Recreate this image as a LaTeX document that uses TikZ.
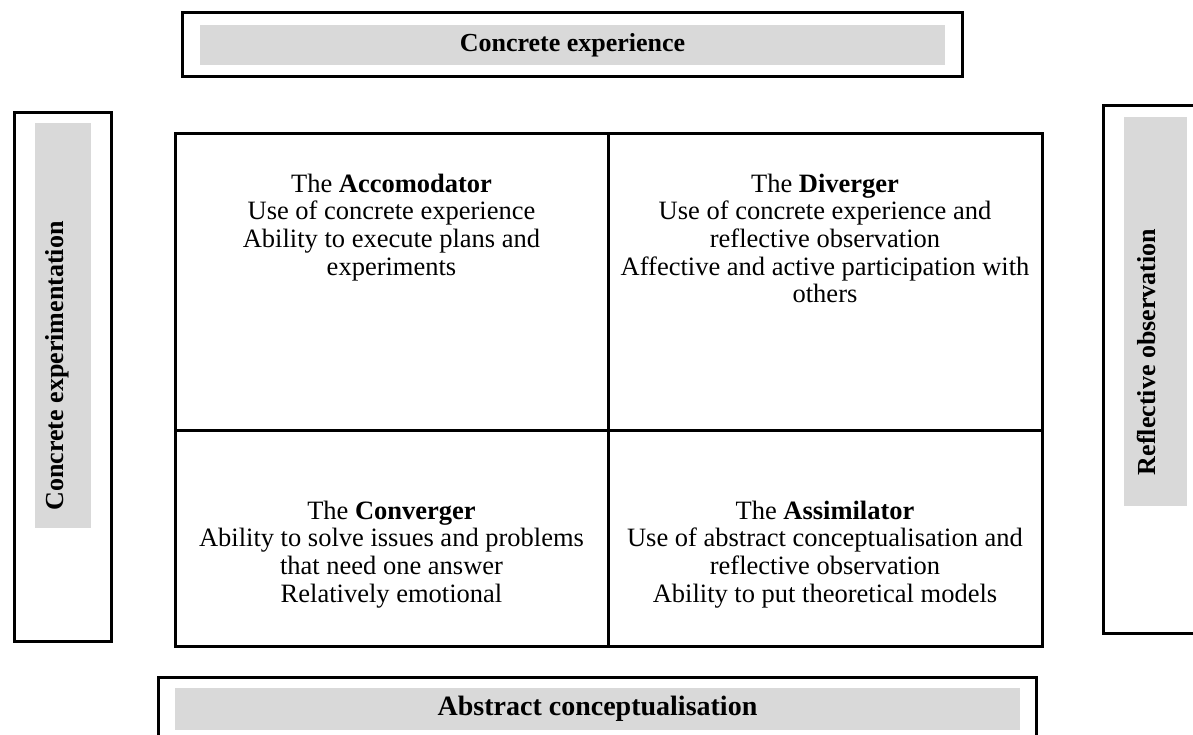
\documentclass[tikz,border=0pt]{standalone}
\usepackage{fontspec}
\setmainfont{Liberation Serif}
\usetikzlibrary{positioning}
\definecolor{bandgrey}{HTML}{D9D9D9}
\begin{document}
\begin{tikzpicture}[x=1pt,y=-1pt,
    frame/.style={draw,line width=3pt,inner sep=0pt},
    band/.style={fill=bandgrey,inner sep=0pt},
    cell/.style={draw,line width=3pt,inner sep=0pt},
    celltext/.style={align=center,anchor=north,inner sep=0pt,font=\fontsize{26.5}{27.7}\selectfont},
    sidetext/.style={inner sep=0pt,font=\fontsize{26}{28}\selectfont\bfseries}]
        \clip (0,0) rectangle (1193,735);
        % top
        \node[frame,minimum width=780,minimum height=64] (topframe) at (572,45) {};
        \node[band,minimum width=745,minimum height=40] (topband) at (572.5,45) {};
        \node[sidetext] (cexp) at (topband) {Concrete experience};
        % left
        \node[frame,minimum width=97,minimum height=528] (leftframe) at (62.5,377) {};
        \node[band,minimum width=56,minimum height=405] (leftband) at (63,325.5) {};
        \node[sidetext,rotate=90] (cexpm) at (57,366) {Concrete experimentation};
        % right
        \node[frame,minimum width=95,minimum height=527] (rightframe) at (1150.5,369.5) {};
        \node[band,minimum width=63,minimum height=389] (rightband) at (1155.5,311.5) {};
        \node[sidetext,rotate=90] (robs) at (1146,352) {Reflective observation};
        % the four styles
        \node[cell,minimum width=433,minimum height=296] (accom) at (391.5,282) {};
        \node[cell,minimum width=434,minimum height=296] (diver) at (825,282) {};
        \node[cell,minimum width=433,minimum height=216] (conver) at (391.5,538) {};
        \node[cell,minimum width=434,minimum height=216] (assim) at (825,538) {};
        \node[celltext,below=41pt of accom.north] (accomtxt) {The \textbf{Accomodator}\\Use of concrete experience\\Ability to execute plans and\\experiments};
        \node[celltext,below=41pt of diver.north] (divertxt) {The \textbf{Diverger}\\Use of concrete experience and\\reflective observation\\Affective and active participation with\\others};
        \node[celltext,below=72pt of conver.north] (convertxt) {The \textbf{Converger}\\Ability to solve issues and problems\\that need one answer\\Relatively emotional};
        \node[celltext,below=72pt of assim.north] (assimtxt) {The \textbf{Assimilator}\\Use of abstract conceptualisation and\\reflective observation\\Ability to put theoretical models};
        % bottom
        \node[frame,minimum width=878,minimum height=73] (botframe) at (597,713.5) {};
        \node[band,minimum width=845,minimum height=42] (botband) at (597.5,709) {};
        \node[sidetext,font=\fontsize{28}{30}\selectfont\bfseries] (aconc) at (botband) {Abstract conceptualisation};
\end{tikzpicture}
\end{document}
